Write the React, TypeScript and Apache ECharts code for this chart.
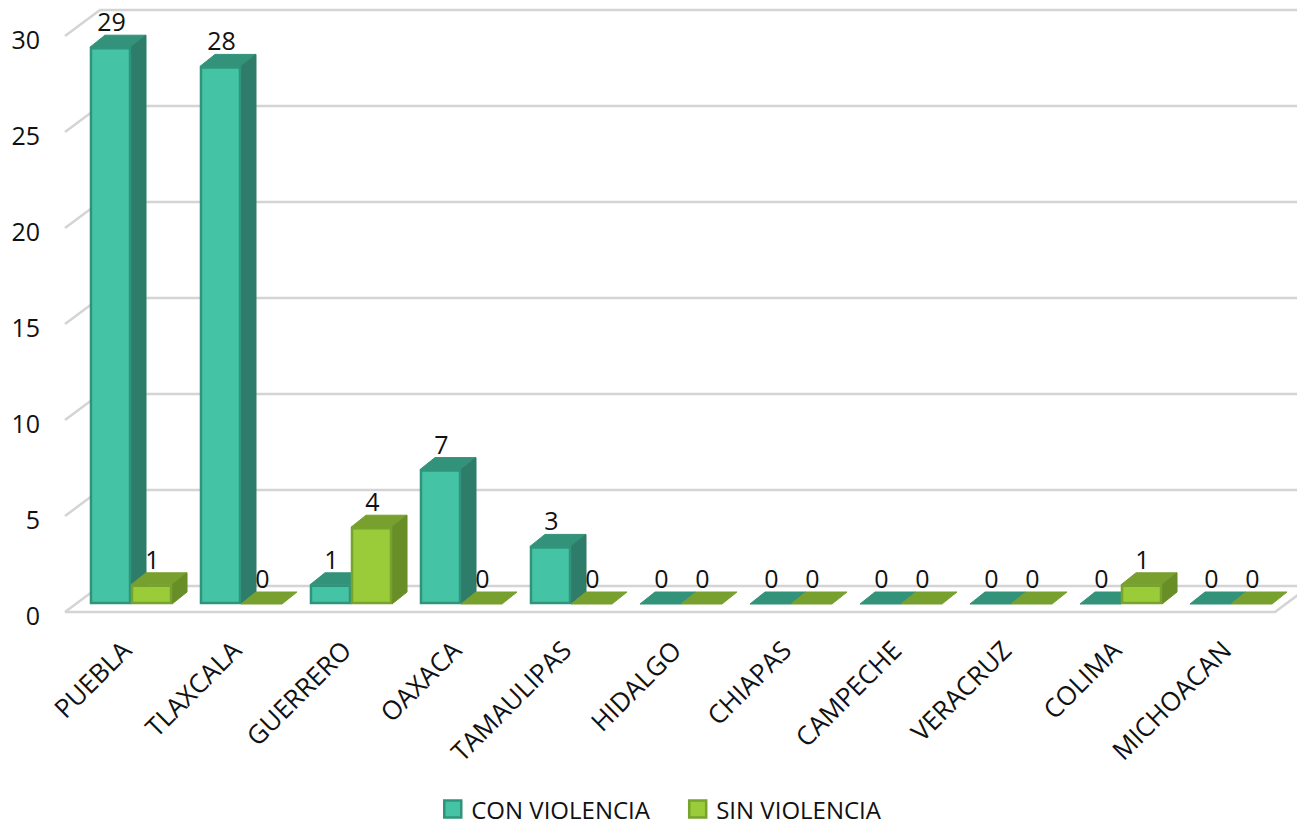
import React, { useEffect, useRef } from "react";
import * as echarts from "echarts";

const categories = ["PUEBLA", "TLAXCALA", "GUERRERO", "OAXACA", "TAMAULIPAS", "HIDALGO", "CHIAPAS", "CAMPECHE", "VERACRUZ", "COLIMA", "MICHOACAN"];
const conViolencia = [29, 28, 1, 7, 3, 0, 0, 0, 0, 0, 0];
const sinViolencia = [1, 0, 4, 0, 0, 0, 0, 0, 0, 1, 0];
const yTicks = [0, 5, 10, 15, 20, 25, 30];
const seriesNames = ["CON VIOLENCIA", "SIN VIOLENCIA"];

const FONT = "'Open Sans', 'Noto Sans', sans-serif";
const PAL = [
  { front: "#44C4A5", border: "#2F947B", top: "#32927A", side: "#2D7D6A" },
  { front: "#9ACB38", border: "#77A22E", top: "#77A02E", side: "#688E27" },
];
const DX = 15;
const DY = -12;
const FRONT_DX = -11;
const FRONT_DY = 8;
const BACK_DX = 24;
const BACK_DY = -18;

function barRender(s: number) {
  return (params: any, api: any) => {
    const i = api.value(0);
    const v = api.value(1);
    const [cx, yTop] = api.coord([i, v]);
    const [, yBase] = api.coord([i, 0]);
    const band = api.size([1, 0])[0];
    const w = band * 0.373;
    const x0 = s === 0 ? cx - w : cx;
    const x1 = x0 + w;
    const p = PAL[s];
    const children: any[] = [];
    children.push({
      type: "polygon",
      shape: { points: [[x0, yTop], [x0 + DX, yTop + DY], [x1 + DX, yTop + DY], [x1, yTop]] },
      style: { fill: p.top, stroke: p.top, lineWidth: 1 },
    });
    if (v > 0) {
      children.push({
        type: "polygon",
        shape: { points: [[x1, yTop], [x1 + DX, yTop + DY], [x1 + DX, yBase + DY], [x1, yBase]] },
        style: { fill: p.side, stroke: p.side, lineWidth: 1 },
      });
      children.push({
        type: "rect",
        shape: { x: x0 + 1, y: yTop + 1, width: w - 2, height: yBase - yTop - 2 },
        style: { fill: p.front, stroke: p.border, lineWidth: 2.5 },
      });
    }
    children.push({
      type: "text",
      z2: 20,
      style: {
        text: String(v),
        x: (x0 + x1) / 2 + 1,
        y: yTop + DY - 14,
        align: "center",
        verticalAlign: "middle",
        fontSize: 25,
        fontFamily: FONT,
        fill: "#111",
      },
    });
    return { type: "group", children };
  };
}

function frameRender(params: any, api: any) {
  const v = api.value(1);
  const [cx0, y] = api.coord([0, v]);
  const [cxN] = api.coord([categories.length - 1, v]);
  const band = api.size([1, 0])[0];
  const left = cx0 - band / 2;
  const right = cxN + band / 2;
  const st = { stroke: "#D4D4D4", lineWidth: 2.5, fill: "none" };
  const children: any[] = [
    {
      type: "polyline",
      shape: { points: [[left + FRONT_DX, y + FRONT_DY], [left + BACK_DX, y + BACK_DY], [right + BACK_DX, y + BACK_DY]] },
      style: st,
    },
  ];
  if (v === 0) {
    children.push({
      type: "polyline",
      shape: { points: [[left + FRONT_DX, y + FRONT_DY], [right + FRONT_DX, y + FRONT_DY], [right + BACK_DX, y + BACK_DY]] },
      style: st,
    });
  }
  return { type: "group", children };
}

export default function App() {
  const ref = useRef<HTMLDivElement>(null);
  useEffect(() => {
    if (!ref.current) return;
    const chart = echarts.init(ref.current, undefined, { renderer: "svg" });
    chart.setOption({
      animation: false,
      backgroundColor: "#ffffff",
      grid: { left: 76, right: 11, top: 28, bottom: 223, containLabel: false },
      legend: {
        top: 797,
        left: 443,
        padding: 0,
        itemWidth: 17,
        itemHeight: 17,
        itemGap: 38,
        icon: "rect",
        textStyle: { fontSize: 24, lineHeight: 24, fontFamily: FONT, color: "#111", padding: [0, 0, 0, 5] },
        data: seriesNames.map((n, k) => ({
          name: n,
          itemStyle: { color: PAL[k].front, borderColor: PAL[k].border, borderWidth: 2.5 },
        })),
      },
      xAxis: {
        type: "category",
        data: categories,
        axisLine: { show: false },
        axisTick: { show: false },
        splitLine: { show: false },
        axisLabel: {
          rotate: 45,
          margin: 46,
          interval: 0,
          fontSize: 26,
          fontFamily: FONT,
          color: "#111",
          verticalAlign: "bottom",
          lineHeight: 14,
        },
      },
      yAxis: {
        type: "value",
        min: 0,
        max: 30,
        interval: 5,
        axisLine: { show: false },
        axisTick: { show: false },
        splitLine: { show: false },
        axisLabel: {
          margin: 36,
          fontSize: 25,
          fontFamily: FONT,
          color: "#111",
          verticalAlign: "top",
          lineHeight: 22,
        },
      },
      series: [
        {
          type: "custom",
          name: "frame",
          z: 1,
          silent: true,
          renderItem: frameRender,
          encode: { x: 0, y: 1 },
          data: yTicks.map((t) => [0, t]),
        },
        {
          type: "custom",
          name: seriesNames[0],
          z: 2,
          itemStyle: { color: PAL[0].front },
          renderItem: barRender(0),
          encode: { x: 0, y: 1 },
          data: conViolencia.map((v, i) => [i, v]),
        },
        {
          type: "custom",
          name: seriesNames[1],
          z: 3,
          itemStyle: { color: PAL[1].front },
          renderItem: barRender(1),
          encode: { x: 0, y: 1 },
          data: sinViolencia.map((v, i) => [i, v]),
        },
      ],
    });
    return () => chart.dispose();
  }, []);
  return <div ref={ref} style={{ position: "absolute", left: 0, top: 0, width: 1297, height: 827 }} />;
}
